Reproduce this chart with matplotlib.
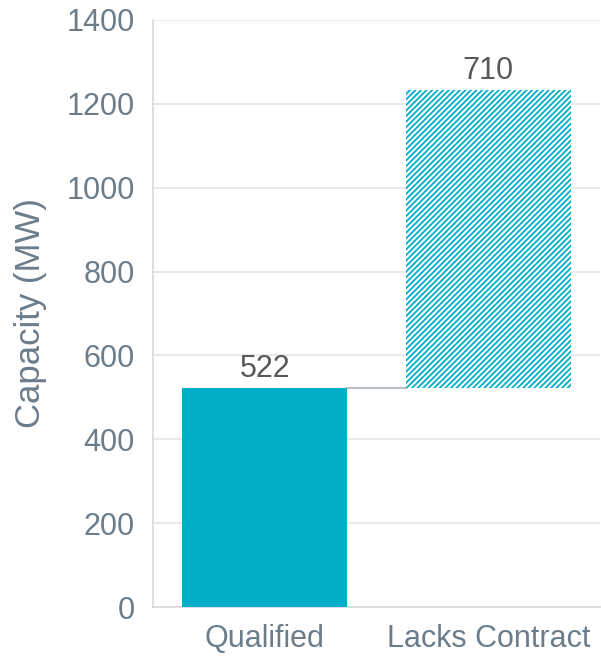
import numpy as np
import matplotlib.pyplot as plt

plt.rcParams['font.family'] = ['Liberation Sans', 'DejaVu Sans']
plt.rcParams['hatch.linewidth'] = 1.3

# data
categories = ["Qualified", "Lacks Contract"]
values = [522, 710]
bar_labels = ["522", "710"]
y_ticks = [0, 200, 400, 600, 800, 1000, 1200, 1400]

teal = "#00aec7"
tick_col = "#6b7c8b"
label_col = "#58595b"
grid_col = "#e3e6e9"

fig = plt.figure(figsize=(6.01, 6.60), dpi=100)
ax = fig.add_axes([0.2546, 0.0803, 0.7437, 0.8894])

x = np.arange(len(categories))
width = 0.74
bottoms = [0, values[0]]

ax.bar(x[0], values[0], width, bottom=bottoms[0], color=teal, linewidth=0, zorder=3)
ax.bar(x[1], values[1], width, bottom=bottoms[1], facecolor="white",
       edgecolor=teal, hatch="//////", linewidth=0, zorder=3)

# connector between bars
ax.plot([x[0] + width / 2, x[1] - width / 2], [values[0], values[0]],
        color="#b8bec4", linewidth=1.5, zorder=2)

for i in range(len(x)):
    top = bottoms[i] + values[i]
    ax.text(x[i], top + 10, bar_labels[i], ha="center", va="bottom",
            fontsize=22, color=label_col)

ax.set_xlim(-0.5, 1.5)
ax.set_ylim(0, 1400)
ax.set_yticks(y_ticks)
ax.set_xticks(x)
ax.set_xticklabels(categories)
ax.tick_params(axis="both", length=0, labelsize=22, labelcolor=tick_col)
ax.tick_params(axis="x", pad=12)
ax.tick_params(axis="y", pad=13)
ax.yaxis.grid(True, color=grid_col, linewidth=1.2, zorder=0)
ax.set_axisbelow(True)

for s in ["top", "right"]:
    ax.spines[s].set_visible(False)
ax.spines["left"].set_color("#d5dade")
ax.spines["bottom"].set_color("#d5dade")
ax.spines["left"].set_linewidth(1.2)
ax.spines["bottom"].set_linewidth(1.2)

ax.set_ylabel("Capacity (MW)", fontsize=25, color=tick_col, labelpad=14)

fig.savefig("out.png", dpi=100)
